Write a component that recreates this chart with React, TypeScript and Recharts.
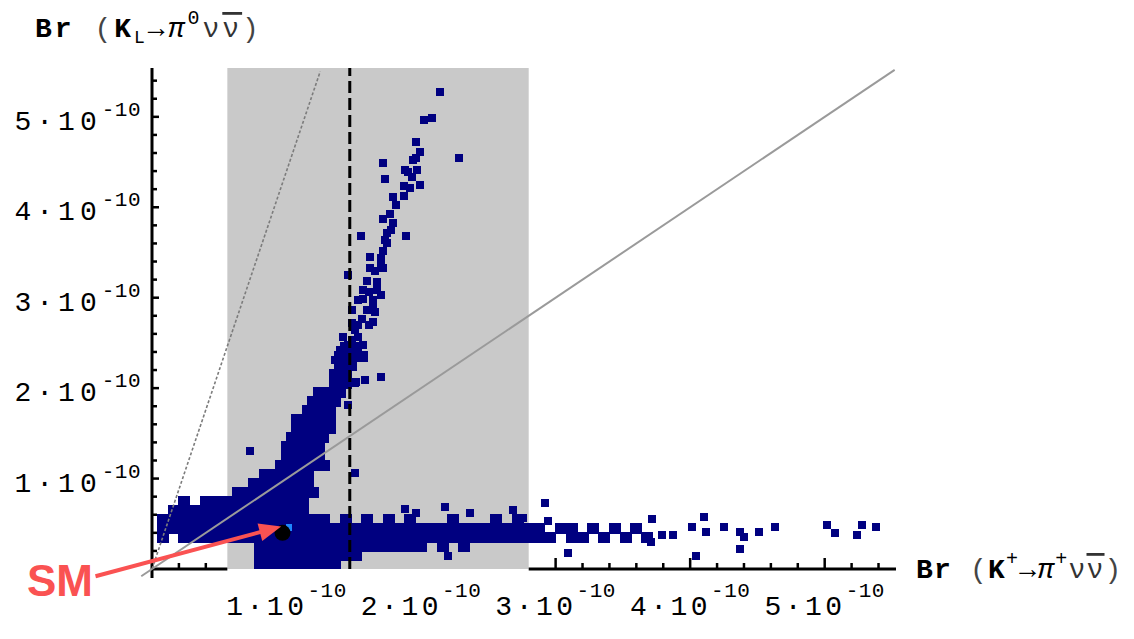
import { ReferenceArea, ReferenceDot, ReferenceLine, Scatter, ScatterChart, XAxis, YAxis } from "recharts";

// all values in units of 1e-10
const xMax = 5.53;
const yMax = 5.54;

const xTicks = [0.2, 0.4, 0.6, 0.8, 1, 1.2, 1.4, 1.6, 1.8, 2, 2.2, 2.4, 2.6, 2.8, 3, 3.2, 3.4, 3.6, 3.8, 4, 4.2, 4.4, 4.6, 4.8, 5, 5.2, 5.4];
const yTicks = [0.2, 0.4, 0.6, 0.8, 1, 1.2, 1.4, 1.6, 1.8, 2, 2.2, 2.4, 2.6, 2.8, 3, 3.2, 3.4, 3.6, 3.8, 4, 4.2, 4.4, 4.6, 4.8, 5, 5.2, 5.4];

// E949 measurement of Br(K+ -> pi+ nu nubar): central value and 1 sigma band
const measuredCentral = 1.47;
const measuredBand = [0.56, 2.8];

// Grossman-Nir bound and Br(KL) = Br(K+) line
const gnBound = [
  { x: 0, y: 0 },
  { x: 1.25, y: 5.5 },
];
const equalLine = [
  { x: -0.08, y: -0.08 },
  { x: 5.52, y: 5.52 },
];

const smPoint = { x: 0.97, y: 0.4 };
const smNeighbour = [{ x: 1.02, y: 0.46 }];
const smArrow = [
  { x: -0.42, y: -0.08 },
  { x: 0.96, y: 0.47 },
];

// dense part of the scan, row by row: [Br(KL), Br(K+) values]
const denseRows: [number, number[]][] = [
  [0.05, [0.8, 0.88, 0.96, 1.04, 1.12, 1.2, 1.28, 1.36]],
  [0.15, [0.8, 0.88, 0.96, 1.04, 1.12, 1.2, 1.28, 1.36, 1.44, 1.52]],
  [0.25, [0.8, 0.88, 0.96, 1.04, 1.12, 1.2, 1.28, 1.36, 1.44, 1.52, 1.6, 1.68, 1.76, 1.84, 1.92, 2.0, 2.16, 2.32]],
  [0.35, [0.08, 0.24, 0.32, 0.4, 0.48, 0.56, 0.64, 0.72, 0.8, 0.88, 0.96, 1.04, 1.12, 1.2, 1.28, 1.36, 1.44, 1.52, 1.6, 1.68, 1.76, 1.84, 1.92, 2.0, 2.08, 2.16, 2.24, 2.32, 2.4, 2.48, 2.56, 2.64, 2.72, 2.8, 2.88, 2.96, 3.12, 3.2, 3.36, 3.52, 3.68]],
  [0.45, [0.08, 0.16, 0.24, 0.32, 0.4, 0.48, 0.56, 0.64, 0.72, 0.8, 0.88, 0.96, 1.04, 1.12, 1.2, 1.28, 1.36, 1.44, 1.52, 1.6, 1.68, 1.76, 1.84, 1.92, 2.0, 2.08, 2.16, 2.24, 2.32, 2.4, 2.48, 2.56, 2.64, 2.72, 2.8, 2.88, 3.04, 3.12, 3.28, 3.44, 3.6]],
  [0.55, [0.08, 0.16, 0.24, 0.32, 0.4, 0.48, 0.56, 0.64, 0.72, 0.8, 0.88, 0.96, 1.04, 1.12, 1.2, 1.28, 1.44, 1.6, 1.76, 1.92, 2.24, 2.56, 2.72]],
  [0.65, [0.16, 0.24, 0.32, 0.4, 0.48, 0.56, 0.64, 0.72, 0.8, 0.88, 0.96, 1.04, 1.12]],
  [0.75, [0.24, 0.4, 0.48, 0.56, 0.64, 0.72, 0.8, 0.88, 0.96, 1.04, 1.12]],
  [0.85, [0.64, 0.72, 0.8, 0.88, 0.96, 1.04, 1.12, 1.2]],
  [0.95, [0.76, 0.84, 0.92, 1.0, 1.08, 1.16]],
  [1.05, [0.84, 0.92, 1.0, 1.08, 1.16]],
  [1.15, [0.96, 1.04, 1.12, 1.2, 1.28]],
  [1.25, [1.0, 1.08, 1.16, 1.24]],
  [1.35, [1.0, 1.08, 1.16, 1.24]],
  [1.45, [1.04, 1.12, 1.2, 1.27]],
  [1.55, [1.08, 1.16, 1.24, 1.32]],
  [1.65, [1.08, 1.16, 1.24, 1.32]],
  [1.75, [1.16, 1.24, 1.32]],
  [1.85, [1.2, 1.28, 1.36]],
  [1.95, [1.24, 1.32, 1.4]],
  [2.05, [1.36, 1.44]],
  [2.15, [1.36, 1.44]],
  [2.25, [1.4, 1.48]],
  [2.35, [1.4, 1.48, 1.56]],
  [2.45, [1.44, 1.52]],
];

// isolated scan points
const sparsePoints: [number, number][] = [
  [1.36, 2.31], [1.45, 2.31], [1.4, 2.42], [1.46, 2.48], [1.57, 2.48], [1.42, 2.56], [1.53, 2.56],
  [1.43, 2.2], [1.52, 2.4], [1.49, 2.53], [1.51, 2.64], [1.64, 2.73], [1.56, 2.77],
  [1.49, 2.72], [1.53, 2.7], [1.61, 2.7], [1.49, 2.86], [1.6, 2.86], [1.66, 2.84], [1.64, 2.97],
  [1.64, 2.92], [1.53, 2.97], [1.7, 3.03], [1.61, 3.06], [1.66, 3.3], [1.7, 3.36],
  [1.57, 2.99], [1.57, 3.08], [1.67, 3.08], [1.6, 3.19], [1.67, 3.17], [1.46, 3.25], [1.62, 3.33],
  [1.72, 3.33], [1.62, 3.45], [1.7, 3.44], [1.72, 3.52], [1.75, 3.6], [1.55, 3.68], [1.89, 3.68],
  [1.73, 3.64], [1.78, 3.75], [1.81, 4.02], [1.87, 4.13], [1.92, 4.21], [1.9, 4.39], [1.97, 4.41],
  [1.94, 4.52],
  [1.75, 3.71], [1.79, 3.83], [1.72, 3.87], [1.77, 3.93], [1.79, 4.11], [1.87, 4.24], [1.99, 4.25],
  [1.73, 4.31], [1.93, 4.33], [1.88, 4.41], [1.72, 4.49], [1.96, 4.54], [2.28, 4.55], [1.99, 4.61],
  [1.96, 4.72], [2.02, 4.96], [2.08, 4.99], [2.14, 5.27],
  [1.58, 2.09], [1.7, 2.12], [1.51, 2.06], [1.46, 1.81], [1.52, 2.07], [0.73, 1.31], [1.51, 1.06],
  [1.88, 0.66], [1.96, 0.62], [2.18, 0.69], [2.36, 0.62], [2.68, 0.65], [2.76, 0.56], [2.92, 0.73],
  [2.94, 0.53], [2.2, 0.14], [3.09, 0.18], [3.71, 0.3], [3.79, 0.38], [3.87, 0.38], [3.72, 0.55],
  [4.01, 0.46], [4.1, 0.57], [4.12, 0.41], [4.04, 0.14], [4.25, 0.46], [4.37, 0.41], [4.4, 0.35],
  [4.37, 0.22], [4.51, 0.41], [4.63, 0.46], [5.02, 0.49], [5.08, 0.4], [5.24, 0.38], [5.28, 0.49],
  [5.38, 0.46],
];

const denseData = denseRows.flatMap(([y, xs]) => xs.map((x) => ({ x, y })));
const sparseData = sparsePoints.map(([x, y]) => ({ x, y }));

const NAVY = "#000080";
const RED = "#fa5252";
const MONO = '"Liberation Mono", "DejaVu Sans Mono", monospace';

const square = (w: number, h: number, fill: string) => (p: any) =>
  <rect x={p.cx - w / 2} y={p.cy - h / 2} width={w} height={h} fill={fill} shapeRendering="crispEdges" />;

function XTick(props: any) {
  const { x, y, payload } = props;
  const v = payload.value;
  const major = Number.isInteger(v);
  const hidden = v >= measuredBand[0] && v <= measuredBand[1];
  return (
    <g>
      {!hidden && <line x1={x} x2={x} y1={y} y2={y - (major ? 11 : 6)} stroke="#000" strokeWidth={2.5} />}
      {major && (
        <text x={x} y={y + 46} textAnchor="middle" fontFamily={MONO} fontSize={28} letterSpacing={3.5} fill="#000">
          {`${v}·10`}
          <tspan dy={-18} fontSize={21} letterSpacing={0.5}>-10</tspan>
        </text>
      )}
    </g>
  );
}

function YTick(props: any) {
  const { x, y, payload } = props;
  const v = payload.value;
  const major = Number.isInteger(v);
  return (
    <g>
      <line x1={x} x2={x + (major ? 7 : 5)} y1={y} y2={y} stroke="#000" strokeWidth={2.5} />
      {major && (
        <text x={x - 11} y={y + 13} textAnchor="end" fontFamily={MONO} fontSize={28} letterSpacing={5} fill="#000">
          {`${v}·10`}
          <tspan dy={-14} fontSize={21} letterSpacing={0.5}>-10</tspan>
        </text>
      )}
    </g>
  );
}

function ArrowShape(p: any) {
  const { x1, y1, x2, y2 } = p;
  const a = Math.atan2(y2 - y1, x2 - x1);
  const len = 22;
  const half = 9;
  const bx = x2 - len * Math.cos(a);
  const by = y2 - len * Math.sin(a);
  const nx = -Math.sin(a) * half;
  const ny = Math.cos(a) * half;
  return (
    <g>
      <line x1={x1} y1={y1} x2={bx + 2 * Math.cos(a)} y2={by + 2 * Math.sin(a)} stroke={RED} strokeWidth={4} />
      <polygon points={`${x2},${y2} ${bx + nx},${by + ny} ${bx - nx},${by - ny}`} fill={RED} />
    </g>
  );
}

function Title({ x, y, sup, sub, spacing }: { x: number; y: number; sup: string; sub?: string; spacing: number }) {
  return (
    <text x={x} y={y} fontFamily={MONO} fontSize={28} letterSpacing={spacing} fill="#000">
      <tspan fontWeight="bold">Br</tspan>
      <tspan fill="#444"> (</tspan>
      <tspan fontWeight="bold">K</tspan>
      {sub ? (
        <tspan dy={6} fontSize={18}>{sub}</tspan>
      ) : (
        <tspan dy={-13} fontSize={20}>+</tspan>
      )}
      <tspan dy={sub ? -6 : 13} fontWeight="bold">→</tspan>
      <tspan fontStyle="italic">π</tspan>
      <tspan dy={-13} fontSize={20}>{sup}</tspan>
      <tspan dy={13} fill="#333">ν</tspan>
      <tspan fill="#333" textDecoration="overline">ν</tspan>
      <tspan fill="#444">)</tspan>
    </text>
  );
}

export default function App() {
  return (
    <div style={{ position: "absolute", left: 0, top: 0, width: 1134, height: 639, background: "#fff", overflow: "hidden" }}>
      <ScatterChart width={1134} height={639} margin={{ top: 68, right: 238, bottom: 40, left: 92 }}>
        <XAxis
          type="number"
          dataKey="x"
          domain={[0, xMax]}
          allowDataOverflow
          ticks={xTicks}
          interval={0}
          height={30}
          axisLine={false}
          tickLine={false}
          tickSize={0}
          tickMargin={0}
          tick={<XTick />}
        />
        <YAxis
          type="number"
          dataKey="y"
          domain={[0, yMax]}
          allowDataOverflow
          ticks={yTicks}
          interval={0}
          width={60}
          axisLine={false}
          tickLine={false}
          tickSize={0}
          tickMargin={0}
          tick={<YTick />}
        />
        <ReferenceArea x1={measuredBand[0]} x2={measuredBand[1]} y1={0} y2={yMax} fill="#c9c9c9" fillOpacity={1} stroke="none" ifOverflow="visible" />
        <Scatter data={denseData} fill={NAVY} isAnimationActive={false} shape={square(12, 11, NAVY)} />
        <Scatter data={sparseData} fill={NAVY} isAnimationActive={false} shape={square(8, 8, NAVY)} />
        <Scatter data={smNeighbour} fill="#1e88ff" isAnimationActive={false} shape={square(6, 7, "#1e88ff")} />
        <ReferenceLine zIndex={700} x={measuredCentral} stroke="#000" strokeWidth={3} strokeDasharray="12 5" />
        <ReferenceLine zIndex={700} segment={equalLine} stroke="#9a9a9a" strokeWidth={2} ifOverflow="visible" />
        <ReferenceLine zIndex={700} segment={gnBound} stroke="#7c7c7c" strokeWidth={1.6} strokeDasharray="3 2" ifOverflow="visible" />
        <ReferenceDot zIndex={800} x={smPoint.x} y={smPoint.y} r={8} fill="#000" stroke="none" />
        <ReferenceLine segment={[{ x: 0, y: -0.1 }, { x: 0, y: yMax }]} stroke="#000" strokeWidth={3} ifOverflow="visible" />
        <ReferenceLine segment={[{ x: 0, y: 0 }, { x: measuredBand[0], y: 0 }]} stroke="#000" strokeWidth={3} ifOverflow="visible" />
        <ReferenceLine segment={[{ x: measuredBand[1], y: 0 }, { x: xMax, y: 0 }]} stroke="#000" strokeWidth={3} ifOverflow="visible" />
        <ReferenceLine zIndex={900} segment={smArrow} ifOverflow="visible" shape={ArrowShape} />
      </ScatterChart>
      <svg width={1134} height={639} style={{ position: "absolute", left: 0, top: 0, pointerEvents: "none" }}>
        <Title x={35} y={37} sup="0" sub="L" spacing={3} />
        <Title x={916} y={578} sup="+" spacing={1.2} />
        <text x={27} y={596} fontFamily='"Liberation Sans", Arial, sans-serif' fontWeight="bold" fontSize={44} fill={RED}>
          SM
        </text>
      </svg>
    </div>
  );
}
